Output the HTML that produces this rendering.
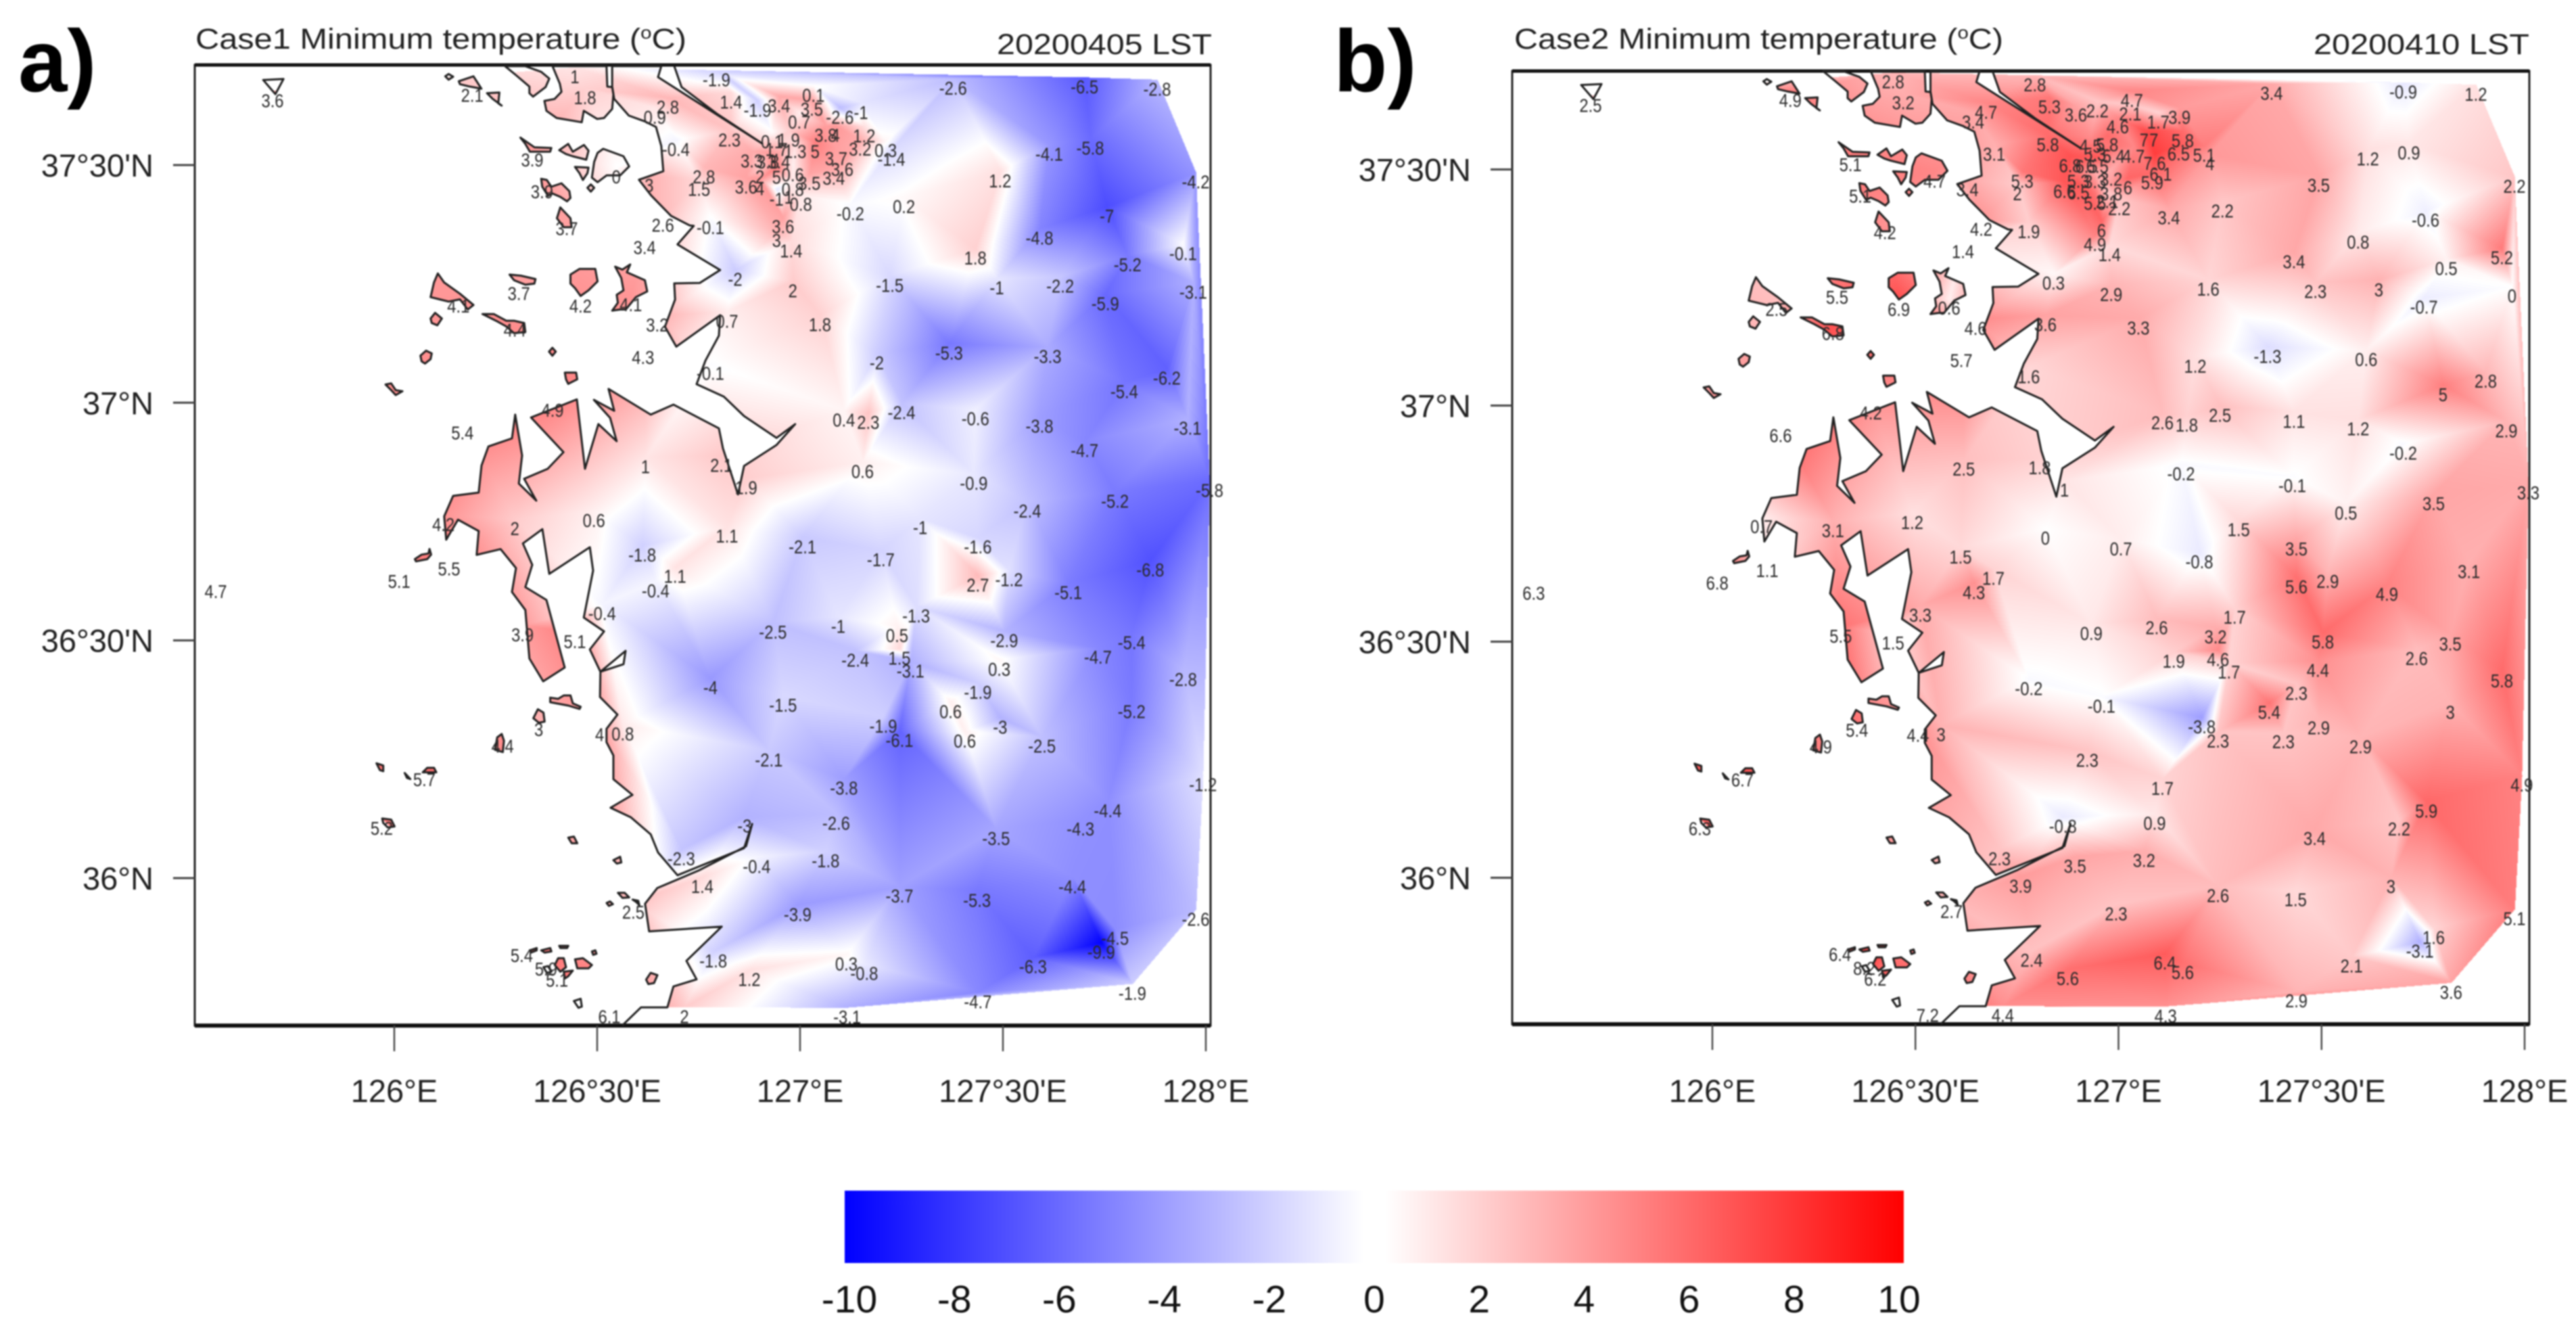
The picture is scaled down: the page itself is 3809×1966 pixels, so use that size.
<!DOCTYPE html>
<html lang="en">
<head>
<meta charset="utf-8">
<title>Minimum temperature maps, Case1 and Case2</title>
<style>
html,body{margin:0;padding:0;background:#fff;}
#stage{position:relative;width:3809px;height:1966px;background:#fff;overflow:hidden;font-family:"Liberation Sans",sans-serif;filter:blur(1px);}
canvas{position:absolute;}
svg{position:absolute;left:0;top:0;}
text{font-family:"Liberation Sans",sans-serif;}
</style>
</head>
<body>
<div id="stage">
<canvas id="fieldA"></canvas>
<canvas id="fieldB"></canvas>
<svg id="plot" width="3809" height="1966" viewBox="0 0 3809 1966" xmlns="http://www.w3.org/2000/svg">
<defs>
<linearGradient id="cbGrad" x1="0" x2="1" y1="0" y2="0">
<stop offset="0" stop-color="#0000ff"/><stop offset="0.49" stop-color="#ffffff"/><stop offset="0.51" stop-color="#ffffff"/><stop offset="1" stop-color="#ff0000"/>
</linearGradient>
</defs>
<text x="27" y="135" font-size="130" font-weight="700" fill="#000">a)</text>
<text x="1972" y="135" font-size="130" font-weight="700" fill="#000">b)</text>
<text x="289" y="72" font-size="43" fill="#222" textLength="726" lengthAdjust="spacingAndGlyphs">Case1 Minimum temperature (<tspan font-size="26" dy="-15">o</tspan><tspan dy="15">C)</tspan></text>
<text x="1474" y="80" font-size="43" fill="#222" textLength="318" lengthAdjust="spacingAndGlyphs">20200405 LST</text>
<text x="2239" y="72" font-size="43" fill="#222" textLength="723" lengthAdjust="spacingAndGlyphs">Case2 Minimum temperature (<tspan font-size="26" dy="-15">o</tspan><tspan dy="15">C)</tspan></text>
<text x="3421" y="80" font-size="43" fill="#222" textLength="319" lengthAdjust="spacingAndGlyphs">20200410 LST</text>
<g id="layerA"></g>
<g id="layerB"></g>
<g id="colorbar"></g>
</svg>
</div>
<script>
/* Station longitudes (deg E) */
var stationLon=[
126.794,126.192,125.700,126.445,126.470,126.674,126.642,126.830,126.895,126.948,
127.033,127.029,126.998,127.098,127.150,127.377,127.701,127.880,126.826,126.931,
126.972,127.063,127.087,127.158,126.694,126.988,126.942,127.037,127.089,127.148,
127.211,127.225,127.614,127.715,126.881,126.921,126.948,126.340,126.547,127.975,
127.493,126.763,126.751,126.901,126.942,126.982,127.023,127.083,127.104,126.867,
126.901,126.942,126.972,126.982,127.002,126.628,126.364,127.124,127.256,127.756,
126.425,126.662,126.779,126.958,126.942,126.978,126.617,127.590,127.432,127.944,
127.807,126.840,126.982,127.221,127.485,127.641,127.969,126.307,126.459,126.583,
127.752,126.158,126.648,126.820,127.049,126.297,127.367,127.610,126.613,127.189,
126.779,127.904,127.799,126.390,127.108,127.168,127.250,127.432,127.590,127.955,
126.168,127.701,126.806,126.619,127.154,127.428,126.867,128.009,127.776,127.560,
126.492,126.121,126.297,127.296,126.820,127.006,127.438,
126.611,127.199,126.135,127.863,127.438,127.515,126.012,126.692,126.644,125.560,
127.661,126.512,127.286,127.094,126.933,127.239,126.316,126.445,127.503,127.817,
127.245,127.136,127.734,127.491,127.272,127.944,126.779,127.438,126.958,127.371,
127.817,126.356,127.205,127.493,126.506,126.563,127.245,127.406,127.596,126.267,
126.923,126.074,127.993,127.108,127.758,127.089,125.969,126.863,127.691,127.483,
126.707,127.063,126.893,126.759,127.671,127.245,127.436,126.589,126.994,127.975,
127.776,127.742,126.314,126.786,127.114,127.158,127.574,126.374,126.401,126.875,
127.819,127.438,126.530,126.715,127.116];
/* Station latitudes (deg N) */
var stationLat=[
37.700,37.667,37.656,37.706,37.662,37.642,37.621,37.653,37.636,37.645,
37.667,37.638,37.611,37.621,37.631,37.682,37.685,37.680,37.573,37.570,
37.573,37.583,37.583,37.582,37.553,37.549,37.553,37.549,37.534,37.554,
37.551,37.533,37.543,37.556,37.529,37.527,37.527,37.531,37.496,37.485,
37.487,37.496,37.469,37.496,37.495,37.500,37.482,37.493,37.511,37.474,
37.471,37.449,37.453,37.469,37.438,37.478,37.464,37.418,37.433,37.413,
37.387,37.394,37.389,37.391,37.362,37.340,37.347,37.367,37.325,37.334,
37.311,37.280,37.256,37.267,37.262,37.266,37.253,37.250,37.224,37.227,
37.229,37.224,37.184,37.192,37.185,37.173,37.125,37.118,37.116,37.104,
37.082,37.072,37.044,37.005,36.984,36.979,37.000,36.987,36.971,36.967,
36.957,36.920,36.889,36.886,36.876,36.851,36.842,36.836,36.813,36.793,
36.773,36.764,36.756,36.758,36.740,36.717,36.717,
36.700,36.690,36.671,36.669,36.637,36.648,36.645,36.655,36.625,36.623,
36.621,36.577,36.572,36.550,36.538,36.531,36.532,36.518,36.520,36.516,
36.483,36.479,36.485,36.460,36.456,36.438,36.421,36.411,36.384,36.371,
36.371,36.333,36.340,36.338,36.322,36.324,36.310,36.309,36.298,36.298,
36.269,36.228,36.217,36.210,36.162,36.136,36.125,36.130,36.124,36.104,
36.061,36.057,36.045,36.003,36.002,35.983,35.974,35.949,35.944,35.934,
35.894,35.865,35.858,35.846,35.840,35.820,35.834,35.829,35.806,35.807,
35.778,35.760,35.729,35.729,35.728];
/* Case 1 minimum temperature (deg C) */
var valuesCase1=[
-1.9,2.1,3.6,1,1.8,2.8,0.9,1.4,-1.9,3.4,
0.1,3.5,0.7,-2.6,-1,-2.6,-6.5,-2.8,2.3,0.1,
1.9,3.8,4,1.2,-0.4,1.3,1.7,5,3.7,3.2,
0.3,-1.4,-4.1,-5.8,3.3,3.8,3.4,3.9,0,-4.2,
1.2,2.8,1.5,2,5,0.6,3.5,3.4,3.6,3.6,
4,-1,1,0.8,0.8,3,3.9,-0.2,0.2,-7,
3.7,2.6,-0.1,3.6,3,1.4,3.4,-4.8,1.8,-0.1,
-5.2,-2,2,-1.5,-1,-2.2,-3.1,3.7,4.2,4.1,
-5.9,4.1,3.2,0.7,1.8,4.4,-5.3,-3.3,4.3,-2,
-0.1,-6.2,-5.4,4.9,0.4,2.3,-2.4,-0.6,-3.8,-3.1,
5.4,-4.7,2.1,1,0.6,-0.9,1.9,-5.8,-5.2,-2.4,
0.6,4.2,2,-1,1.1,-2.1,-1.6,
-1.8,-1.7,5.5,-6.8,2.7,-1.2,5.1,1.1,-0.4,4.7,
-5.1,-0.4,-1.3,-1,-2.5,0.5,3.9,5.1,-2.9,-5.4,
1.5,-2.4,-4.7,0.3,-3.1,-2.8,-4,-1.9,-1.5,0.6,
-5.2,3,-1.9,-3,4,0.8,-6.1,0.6,-2.5,4.4,
-2.1,5.7,-1.2,-3.8,-4.4,-2.6,5.2,-3,-4.3,-3.5,
-2.3,-1.8,-0.4,1.4,-4.4,-3.7,-5.3,2.5,-3.9,-2.6,
-4.5,-9.9,5.4,-1.8,0.3,-0.8,-6.3,5.9,5.1,1.2,
-1.9,-4.7,6.1,2,-3.1];
/* Case 2 minimum temperature (deg C) */
var valuesCase2=[
2.8,4.9,2.5,2.8,3.2,4.7,3.4,5.3,3.6,2.2,
4.7,2.1,4.6,1.7,3.9,3.4,-0.9,1.2,5.8,4.5,
5.8,7,7,5.8,3.1,5.4,5.3,4.7,7.6,6.5,
5.1,4,1.2,0.9,6.8,6.5,6.5,5.1,4.7,2.2,
3.5,5.3,2,5.3,3.3,3.2,6,5.9,6.1,6.6,
6.5,5.5,2.1,3.8,2.2,3.4,5.1,3.4,2.2,-0.6,
4.2,4.2,1.9,6,4.9,1.4,1.4,0.8,3.4,5.2,
0.5,0.3,2.9,1.6,2.3,3,0,5.5,6.9,0.6,
-0.7,2.5,4.6,3.6,3.3,6.8,-1.3,0.6,5.7,1.2,
1.6,2.8,5,4.2,2.6,1.8,2.5,1.1,1.2,2.9,
6.6,-0.2,1.8,2.5,-0.2,-0.1,1,3.3,3.5,0.5,
1.2,0.7,3.1,1.5,0,0.7,3.5,
1.5,-0.8,1.1,3.1,5.6,2.9,6.8,1.7,4.3,6.3,
4.9,3.3,1.7,2.6,0.9,3.2,5.5,1.5,5.8,3.5,
4.6,1.9,2.6,4.4,1.7,5.8,-0.2,2.3,-0.1,5.4,
3,5.4,-3.8,2.9,4.4,3,2.3,2.3,2.9,4.9,
2.3,6.7,4.9,1.7,5.9,0.9,6.3,-0.8,2.2,3.4,
2.3,3.2,3.5,3.9,3,2.6,1.5,2.7,2.3,5.1,
1.6,-3.1,6.4,2.4,6.4,5.6,2.1,8.2,6.2,5.6,
3.6,2.9,7.2,4.4,4.3];
/* Axis ticks */
var xTickLons=[126,126.5,127,127.5,128];
var xTickLabels=["126°E","126°30'E","127°E","127°30'E","128°E"];
var yTickLats=[36,36.5,37,37.5];
var yTickLabels=["36°N","36°30'N","37°N","37°30'N"];
var colorbarTicks=[-10,-8,-6,-4,-2,0,2,4,6,8,10];
/* Mainland coast: lon,lat pairs */
var mainlandCoast=[126.690,37.708,126.708,37.664,126.795,37.608,126.907,37.545,126.650,37.685,126.658,37.708,126.537,37.708,126.537,37.665,126.542,37.639,126.578,37.604,126.617,37.592,126.645,37.580,126.658,37.540,126.663,37.487,126.603,37.469,126.633,37.436,126.682,37.393,126.728,37.373,126.738,37.372,126.698,37.333,126.803,37.279,126.753,37.252,126.690,37.251,126.692,37.217,126.667,37.160,126.695,37.118,126.803,37.184,126.800,37.141,126.767,37.089,126.745,37.039,126.812,37.013,126.862,36.972,126.942,36.926,126.988,36.955,126.942,36.911,126.862,36.867,126.847,36.807,126.810,36.904,126.800,36.946,126.688,36.996,126.632,36.975,126.528,37.029,126.542,36.983,126.492,37.006,126.532,36.968,126.548,36.919,126.503,36.955,126.470,36.861,126.450,37.007,126.337,36.969,126.417,36.896,126.378,36.861,126.320,36.840,126.350,36.794,126.307,36.830,126.315,36.889,126.298,36.975,126.290,36.925,126.232,36.908,126.215,36.868,126.208,36.811,126.145,36.804,126.123,36.761,126.128,36.712,126.157,36.754,126.208,36.730,126.203,36.680,126.262,36.692,126.300,36.652,126.290,36.602,126.323,36.564,126.333,36.462,126.367,36.414,126.420,36.443,126.375,36.585,126.323,36.612,126.340,36.659,126.317,36.704,126.365,36.734,126.382,36.640,126.482,36.696,126.490,36.647,126.467,36.548,126.517,36.519,126.482,36.481,126.508,36.434,126.570,36.478,126.565,36.450,126.508,36.434,126.507,36.381,126.550,36.344,126.523,36.314,126.523,36.286,126.540,36.258,126.540,36.208,126.587,36.175,126.533,36.148,126.583,36.128,126.632,36.092,126.650,36.054,126.698,36.006,126.862,36.063,126.882,36.114,126.867,36.067,126.750,36.016,126.648,35.979,126.618,35.946,126.628,35.888,126.807,35.898,126.720,35.826,126.745,35.787,126.688,35.772,126.673,35.728,126.608,35.728,126.562,35.690];
var northIslands=[
[126.273,37.708,126.300,37.689,126.333,37.665,126.333,37.651,126.342,37.644,126.373,37.664,126.382,37.682,126.362,37.696,126.323,37.708],
[126.390,37.708,126.408,37.671,126.412,37.654,126.395,37.639,126.370,37.635,126.375,37.614,126.400,37.599,126.462,37.590,126.467,37.614,126.500,37.597,126.517,37.599,126.537,37.618,126.540,37.649,126.537,37.664,126.525,37.665,126.523,37.708],
[125.677,37.679,125.727,37.681,125.707,37.649]];
/* Digitised small-island outlines: each sheet maps grid steps to lon/lat */
var islandSheets=[
{lon0:126.0617,lat0:37.7104,rings:[
[115,50,130,40,150,52,130,65],
[175,72,240,50,275,105,220,95,180,85],
[300,125,355,122,350,170,365,180,325,150],
[448,322,510,365,585,368,580,385,520,385,490,385,470,350],
[620,378,660,350,680,385,730,355,750,380,740,420,680,405,650,395],
[815,372,905,405,930,450,890,490,830,490,790,520,765,500,775,430,790,390],
[690,452,750,455,745,480,725,510,710,480],
[745,545,760,530,775,545,760,562],
[540,505,565,510,585,540,630,525,665,560,670,590,655,605,625,585,590,570,570,580,545,540],
[625,632,670,680,675,720,640,720,610,680],
[400,930,450,935,515,950,510,970,470,975,420,955],
[670,930,710,905,780,905,790,960,750,1000,715,1025,690,990,670,970],
[868,895,900,908,935,885,920,920,1000,955,1010,1005,960,1030,915,1085,890,1085,855,1090,880,1055,875,1020,905,1000,895,945],
[82,925,110,965,180,1015,240,1065,215,1085,180,1040,130,1050,90,1040,50,1030,65,965],
[50,1125,70,1100,100,1125,80,1155,55,1145],
[280,1105,330,1105,385,1135,420,1135,465,1145,470,1185,420,1190,385,1160,340,1135],
[575,1272,590,1255,605,1272,590,1290],
[5,1290,30,1268,55,1280,50,1305,25,1325,10,1315],
[645,1365,695,1365,700,1395,660,1415,650,1395]]},
{lon0:125.8617,lat0:37.0502,rings:[
[210,25,235,20,255,50,285,55,255,72,235,50],
[340,800,370,780,400,775,405,755,412,780,395,800,345,810],
[940,1415,975,1420,1000,1405,1030,1405,1040,1440,1075,1455,1070,1465,1020,1450,940,1435]]},
{lon0:125.8617,lat0:36.3671,rings:[
[865,65,885,25,910,40,915,80,890,85],
[705,150,725,135,735,165,730,215,695,205],
[170,265,200,275,200,300,185,295],
[295,308,320,335,305,330],
[375,305,395,285,425,285,435,305],
[195,510,235,515,250,545,220,550,200,530],
[1020,595,1045,590,1060,620,1035,620],
[1220,695,1250,680,1255,705,1235,710],
[1240,840,1270,840,1290,860,1260,862],
[1190,885,1205,878,1218,890,1200,898],
[1305,870,1330,875,1335,895,1320,880],
[900,1095,940,1085,945,1100,915,1105],
[980,1075,1020,1075,1015,1085,985,1085],
[1125,1100,1140,1095,1145,1110,1130,1115],
[850,1095,880,1085,880,1095,855,1105],
[1050,1135,1085,1130,1125,1160,1110,1175,1060,1175],
[975,1130,1000,1130,1010,1170,985,1190,960,1160],
[910,1170,930,1165,945,1190,925,1195],
[1000,1190,1040,1185,1020,1210,1005,1220],
[1365,1225,1385,1195,1415,1205,1400,1240,1375,1245],
[1045,1320,1075,1310,1080,1345,1065,1350]]}];

var SVGNS="http://www.w3.org/2000/svg";
function svgEl(tag,attrs,parent){
  var e=document.createElementNS(SVGNS,tag);
  for(var k in attrs){e.setAttribute(k,attrs[k]);}
  parent.appendChild(e);
  return e;
}
function islandRingsLL(){
  var out=northIslands.slice();
  islandSheets.forEach(function(s){
    s.rings.forEach(function(r){
      var a=[];
      for(var i=0;i<r.length;i+=2){a.push(s.lon0+r[i]*0.000556,s.lat0-r[i+1]*0.000474);}
      out.push(a);
    });
  });
  return out;
}
var islands=islandRingsLL();

/* Delaunay triangulation of the stations in map space */
function delaunay(pts){
  var n=pts.length,P=pts.concat([[-1e6,-1e6],[3e6,-1e6],[-1e6,3e6]]);
  function mk(a,b,c){
    var ax=P[a][0],ay=P[a][1],bx=P[b][0],by=P[b][1],cx=P[c][0],cy=P[c][1];
    var d=2*(ax*(by-cy)+bx*(cy-ay)+cx*(ay-by));
    var ux=((ax*ax+ay*ay)*(by-cy)+(bx*bx+by*by)*(cy-ay)+(cx*cx+cy*cy)*(ay-by))/d;
    var uy=((ax*ax+ay*ay)*(cx-bx)+(bx*bx+by*by)*(ax-cx)+(cx*cx+cy*cy)*(bx-ax))/d;
    return {a:a,b:b,c:c,x:ux,y:uy,r:(ax-ux)*(ax-ux)+(ay-uy)*(ay-uy)};
  }
  var tris=[mk(n,n+1,n+2)];
  for(var i=0;i<n;i++){
    var p=P[i],keep=[],edges={};
    tris.forEach(function(t){
      var dx=p[0]-t.x,dy=p[1]-t.y;
      if(dx*dx+dy*dy<t.r){
        [[t.a,t.b],[t.b,t.c],[t.c,t.a]].forEach(function(e){
          var k=Math.min(e[0],e[1])+"_"+Math.max(e[0],e[1]);
          edges[k]=edges[k]?null:e;
        });
      }else{keep.push(t);}
    });
    for(var k in edges){if(edges[k]){keep.push(mk(edges[k][0],edges[k][1],i));}}
    tris=keep;
  }
  return tris.filter(function(t){return t.a<n&&t.b<n&&t.c<n;});
}

function drawField(panel){
  var cv=document.getElementById(panel.canvas);
  var w=panel.right-panel.left,h=panel.bottom-panel.top;
  cv.width=w;cv.height=h;
  cv.style.left=panel.left+"px";cv.style.top=panel.top+"px";
  var ctx=cv.getContext("2d");
  var img=ctx.createImageData(w,h),d=img.data;
  var pts=stationLon.map(function(lon,i){return [panel.x(lon)-panel.left,panel.y(stationLat[i])-panel.top];});
  delaunay(pts).forEach(function(t){
    var A=pts[t.a],B=pts[t.b],C=pts[t.c];
    var va=panel.values[t.a],vb=panel.values[t.b],vc=panel.values[t.c];
    var den=(B[1]-C[1])*(A[0]-C[0])+(C[0]-B[0])*(A[1]-C[1]);
    if(Math.abs(den)<1e-6){return;}
    var x0=Math.max(0,Math.floor(Math.min(A[0],B[0],C[0]))),x1=Math.min(w-1,Math.ceil(Math.max(A[0],B[0],C[0])));
    var y0=Math.max(0,Math.floor(Math.min(A[1],B[1],C[1]))),y1=Math.min(h-1,Math.ceil(Math.max(A[1],B[1],C[1])));
    for(var y=y0;y<=y1;y++){
      for(var x=x0;x<=x1;x++){
        var l1=((B[1]-C[1])*(x-C[0])+(C[0]-B[0])*(y-C[1]))/den;
        var l2=((C[1]-A[1])*(x-C[0])+(A[0]-C[0])*(y-C[1]))/den;
        var l3=1-l1-l2;
        if(l1<-0.002||l2<-0.002||l3<-0.002){continue;}
        var v=l1*va+l2*vb+l3*vc,f=Math.min(1,Math.abs(v)/10),o=(y*w+x)*4;
        var m=255*(1-f);
        d[o]=v>0?255:m;
        d[o+1]=m;
        d[o+2]=v>0?m:255;
        d[o+3]=255;
      }
    }
  });
  ctx.putImageData(img,0,0);
  ctx.globalCompositeOperation="destination-in";
  ctx.beginPath();
  function ring(a,closeEast){
    for(var i=0;i<a.length;i+=2){
      var px=panel.x(a[i])-panel.left,py=panel.y(a[i+1])-panel.top;
      if(i===0){ctx.moveTo(px,py);}else{ctx.lineTo(px,py);}
    }
    if(closeEast){ctx.lineTo(w+50,h+50);ctx.lineTo(w+50,-50);ctx.lineTo(panel.x(a[0])-panel.left,-50);}
    ctx.closePath();
  }
  ring(mainlandCoast,true);
  islands.forEach(function(r){ring(r,false);});
  ctx.fill("nonzero");
}

function pathOf(panel,a,close){
  var s="";
  for(var i=0;i<a.length;i+=2){
    s+=(i?"L":"M")+panel.x(a[i]).toFixed(1)+" "+panel.y(a[i+1]).toFixed(1);
  }
  return s+(close?"Z":"");
}

function drawPanel(panel){
  var g=document.getElementById(panel.layer);
  var frame=svgEl("rect",{x:panel.left,y:panel.top,width:panel.right-panel.left,height:panel.bottom-panel.top,fill:"none",stroke:"#222","stroke-width":3},g);
  
  
  var topLine=svgEl("line",{x1:panel.left,x2:panel.right,y1:panel.top,y2:panel.top,stroke:"#111","stroke-width":5},g);
  
  
  var botLine=svgEl("line",{x1:panel.left,x2:panel.right,y1:panel.bottom,y2:panel.bottom,stroke:"#111","stroke-width":6},g);
  
  
  var coast=svgEl("path",{d:pathOf(panel,mainlandCoast,false),fill:"none",stroke:"#222","stroke-width":3,"stroke-linejoin":"round"},g);
  
  
  islands.forEach(function(r){
    var p=svgEl("path",{d:pathOf(panel,r,true),fill:"none",stroke:"#222","stroke-width":3,"stroke-linejoin":"round"},g);
    
    
  });
  xTickLons.forEach(function(lon,i){
    var x=panel.x(lon);
    var t=svgEl("line",{x1:x,x2:x,y1:panel.bottom,y2:panel.bottom+38,stroke:"#444","stroke-width":2.4},g);
    
    
    var l=svgEl("text",{x:x,y:1629,"font-size":47,"text-anchor":"middle",fill:"#222"},g);
    
    
    l.textContent=xTickLabels[i];
  });
  yTickLats.forEach(function(lat,i){
    var y=panel.y(lat);
    var t=svgEl("line",{x1:panel.left-32,x2:panel.left,y1:y,y2:y,stroke:"#444","stroke-width":3},g);
    
    
    var l=svgEl("text",{x:panel.left-61,y:y+17,"font-size":47,"text-anchor":"end",fill:"#222"},g);
    
    
    l.textContent=yTickLabels[i];
  });
  stationLon.forEach(function(lon,i){
    var sx=panel.x(lon),sy=panel.y(stationLat[i])+24;
    var s=svgEl("text",{transform:"translate("+sx.toFixed(1)+","+sy.toFixed(1)+") scale(.85,1)","font-size":28,"text-anchor":"middle",fill:"#2a2a2a"},g);
    
    
    s.textContent=String(panel.values[i]);
  });
}

function drawColorbar(){
  var g=document.getElementById("colorbar");
  function cbX(v){return 2032+v*77.6;}
  var bar=svgEl("rect",{x:1249,y:1760,width:1566,height:107,fill:"url(#cbGrad)"},g);
  
  
  colorbarTicks.forEach(function(v){
    var t=svgEl("text",{x:cbX(v),y:1940,"font-size":57,"text-anchor":"middle",fill:"#111"},g);
    
    
    t.textContent=String(v);
  });
}

var panelA={canvas:"fieldA",layer:"layerA",values:valuesCase1,left:288,right:1790,top:96,bottom:1516,
  x:function(lon){return 583+(lon-126)*600;},y:function(lat){return 1298-(lat-36)*702.7;}};
var panelB={canvas:"fieldB",layer:"layerB",values:valuesCase2,left:2236,right:3740,top:105,bottom:1514,
  x:function(lon){return 2532+(lon-126)*600.5;},y:function(lat){return 1297.5-(lat-36)*698;}};

[panelA,panelB].forEach(function(p){drawField(p);drawPanel(p);});
drawColorbar();
</script>
</body>
</html>
